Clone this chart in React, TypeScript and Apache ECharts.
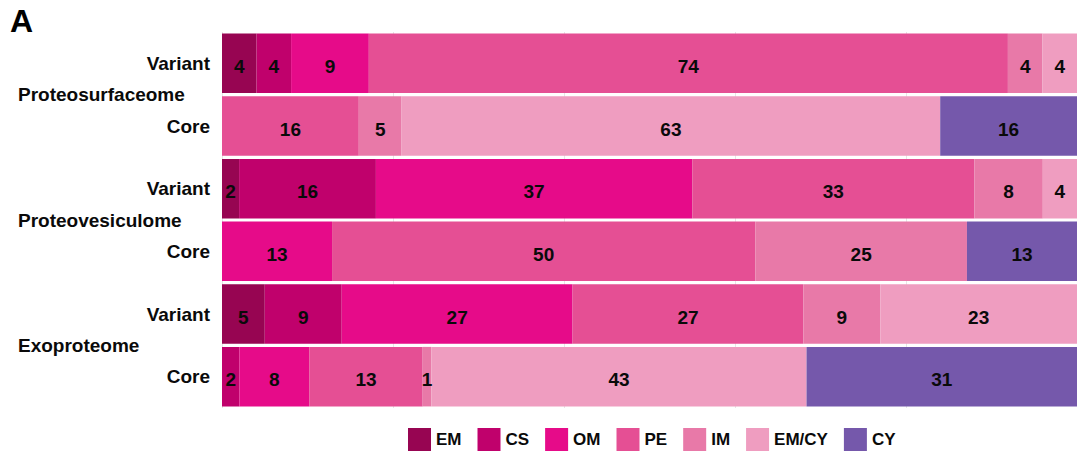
import React, { useEffect, useRef } from "react";
import * as echarts from "echarts";

const rowLabels = ["Variant", "Core", "Variant", "Core", "Variant", "Core"];
const groupLabels = ["Proteosurfaceome", "Proteovesiculome", "Exoproteome"];
const seriesNames = ["EM", "CS", "OM", "PE", "IM", "EM/CY", "CY"];
const EM = [4, 0, 2, 0, 5, 0];
const CS = [4, 0, 16, 0, 9, 2];
const OM = [9, 0, 37, 13, 27, 8];
const PE = [74, 16, 33, 50, 27, 13];
const IM = [4, 5, 8, 25, 9, 1];
const EMCY = [4, 63, 4, 0, 23, 43];
const CY = [0, 16, 0, 13, 0, 31];
const colors = ["#970552", "#c0016c", "#e60b89", "#e54f94", "#e879a8", "#ef9dc0", "#7558ab"];

const FONT = "'Liberation Sans', Arial, Helvetica, sans-serif";

export default function App() {
  const ref = useRef<HTMLDivElement>(null);
  useEffect(() => {
    if (!ref.current) return;
    const chart = echarts.init(ref.current, undefined, { renderer: "svg" });
    const all = [EM, CS, OM, PE, IM, EMCY, CY];
    const totals = rowLabels.map((_, i) => all.reduce((s, a) => s + a[i], 0));
    const series = all.map((arr, k) => ({
      name: seriesNames[k],
      type: "bar",
      stack: "total",
      barCategoryGap: "5%",
      itemStyle: { color: colors[k] },
      label: {
        show: true,
        position: "inside",
        color: "#0a0a0a",
        fontFamily: FONT,
        fontWeight: "bold",
        fontSize: 19,
        offset: [0, 3],
        formatter: (p: any) => String(arr[p.dataIndex]),
      },
      data: arr.map((v, i) => (v > 0 ? (v / totals[i]) * 100 : null)),
    }));
    chart.setOption({
      animation: false,
      textStyle: { fontFamily: FONT },
      grid: { left: 222, top: 32, width: 862, height: 376 },
      xAxis: {
        type: "value",
        min: 0,
        max: 100,
        interval: 20,
        axisLabel: { show: false },
        axisLine: { show: false },
        axisTick: { show: false },
        splitLine: { show: true, lineStyle: { color: "#e6e6e6", width: 1 } },
      },
      yAxis: [
        {
          type: "category",
          inverse: true,
          data: rowLabels,
          axisLine: { show: false },
          axisTick: { show: false },
          axisLabel: {
            color: "#0a0a0a",
            fontFamily: FONT,
            fontWeight: "bold",
            fontSize: 19,
            margin: 12,
            padding: [10, 0, 0, 0],
          },
        },
        {
          type: "category",
          inverse: true,
          position: "left",
          data: groupLabels,
          axisLine: { show: false },
          axisTick: { show: false },
          axisLabel: {
            color: "#0a0a0a",
            fontFamily: FONT,
            fontWeight: "bold",
            fontSize: 19,
            align: "left",
            margin: 204,
            padding: [10, 0, 0, 0],
          },
        },
      ],
      legend: {
        left: 403,
        top: 423,
        itemWidth: 23,
        itemHeight: 23,
        itemGap: 16,
        icon: "rect",
        textStyle: { color: "#0a0a0a", fontFamily: FONT, fontWeight: "bold", fontSize: 17 },
        data: seriesNames,
      },
      graphic: [
        {
          type: "text",
          left: 10,
          top: 5,
          style: { text: "A", fontFamily: FONT, fontWeight: "bold", fontSize: 32, fill: "#000" },
        },
      ],
      series,
    });
    return () => chart.dispose();
  }, []);
  return (
    <div
      ref={ref}
      style={{ position: "absolute", left: 0, top: 0, width: 1077, height: 454, background: "#fff" }}
    />
  );
}
